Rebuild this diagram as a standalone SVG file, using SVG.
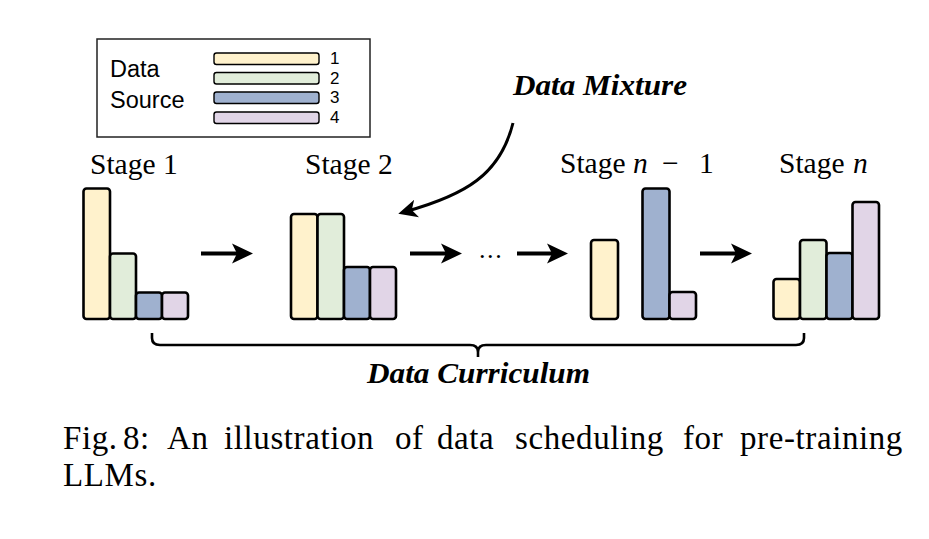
<svg xmlns="http://www.w3.org/2000/svg" width="929" height="539" viewBox="0 0 929 539">
<style>
.bar{stroke:#000;stroke-width:2.6}
.lg{stroke:#000;stroke-width:1.4}
.y{fill:#FFF2CC}.g{fill:#E1EDDA}.b{fill:#9FB1CF}.p{fill:#E1D5E7}
.sans{font-family:"Liberation Sans",Arial,sans-serif;fill:#000}
.serif{font-family:"Liberation Serif","Times New Roman",serif;fill:#000}
.stage{font-size:29.5px}
.bi{font-weight:bold;font-style:italic;font-size:30px}
.cap{font-size:33px;letter-spacing:0.6px}
.conn{fill:none;stroke:#000;stroke-width:4}
</style>
<defs>
<marker id="ah" markerUnits="userSpaceOnUse" markerWidth="22" markerHeight="22" viewBox="0 0 22 22" refX="12" refY="11" orient="auto">
<path d="M0,1 L21,11 L0,21 L5,11 Z" fill="#000"/>
</marker>
<marker id="ah2" markerUnits="userSpaceOnUse" markerWidth="20" markerHeight="20" viewBox="0 0 20 20" refX="11" refY="10" orient="auto">
<path d="M0,1 L19,10 L0,19 L5,10 Z" fill="#000"/>
</marker>
</defs>
<rect width="929" height="539" fill="#fff"/>

<g id="legend">
<rect x="97" y="39" width="273" height="98" fill="#fff" stroke="#222" stroke-width="1.5"/>
<text class="sans" x="110" y="77" font-size="23.5">Data</text>
<text class="sans" x="110" y="108" font-size="23.5">Source</text>
<rect class="lg y" x="214" y="53" width="105" height="11.5" rx="2.5"/>
<rect class="lg g" x="214" y="72.5" width="105" height="11.5" rx="2.5"/>
<rect class="lg b" x="214" y="92" width="105" height="11.5" rx="2.5"/>
<rect class="lg p" x="214" y="112" width="105" height="11.5" rx="2.5"/>
<text class="sans" x="330" y="64" font-size="17">1</text>
<text class="sans" x="330" y="83.5" font-size="17">2</text>
<text class="sans" x="330" y="103" font-size="17">3</text>
<text class="sans" x="330" y="123" font-size="17">4</text>
</g>

<g id="stage1">
<text class="serif stage" x="90" y="174">Stage 1</text>
<rect class="bar y" x="83.5" y="188.5" width="26.5" height="130.5" rx="3"/>
<rect class="bar g" x="110" y="253.5" width="26" height="65.5" rx="3"/>
<rect class="bar b" x="136" y="292.5" width="26" height="26.5" rx="3"/>
<rect class="bar p" x="162" y="292.5" width="26" height="26.5" rx="3"/>
</g>

<g id="stage2">
<text class="serif stage" x="305" y="174">Stage 2</text>
<rect class="bar y" x="291" y="214" width="26.5" height="105" rx="3"/>
<rect class="bar g" x="317.5" y="214" width="26.5" height="105" rx="3"/>
<rect class="bar b" x="344" y="267" width="26" height="52" rx="3"/>
<rect class="bar p" x="370" y="267" width="26" height="52" rx="3"/>
</g>

<g id="stage-n-1">
<text class="serif stage" y="173"><tspan x="560">Stage</tspan><tspan x="633" font-style="italic">n</tspan><tspan x="662">−</tspan><tspan x="699">1</tspan></text>
<rect class="bar y" x="591" y="240" width="27" height="79" rx="3"/>
<rect class="bar b" x="642.5" y="188.5" width="27" height="130.5" rx="3"/>
<rect class="bar p" x="669.5" y="292" width="26.5" height="27" rx="3"/>
</g>

<g id="stage-n">
<text class="serif stage" y="173"><tspan x="779">Stage</tspan><tspan x="853" font-style="italic">n</tspan></text>
<rect class="bar y" x="773.5" y="279" width="26.5" height="40" rx="3"/>
<rect class="bar g" x="800" y="240" width="26.5" height="79" rx="3"/>
<rect class="bar b" x="826.5" y="253" width="26" height="66" rx="3"/>
<rect class="bar p" x="852.5" y="202" width="26.5" height="117" rx="3"/>
</g>

<g id="mixture-label">
<text class="serif bi" x="513" y="95" textLength="174" lengthAdjust="spacingAndGlyphs">Data Mixture</text>
</g>

<g id="curriculum">
<path d="M152,333 L152,338 Q152,345 160,345 L470,345 Q478,345 478,352 L478,357 M478,352 Q478,345 486,345 L796,345 Q804,345 804,338 L804,333" fill="none" stroke="#000" stroke-width="2.6"/>
<text class="serif bi" x="367" y="383" textLength="223" lengthAdjust="spacingAndGlyphs">Data Curriculum</text>
</g>

<g id="connectors">
<line class="conn" x1="201" y1="253.5" x2="244" y2="253.5" marker-end="url(#ah)"/>
<line class="conn" x1="410" y1="253.5" x2="453" y2="253.5" marker-end="url(#ah)"/>
<line class="conn" x1="517" y1="253.5" x2="559" y2="253.5" marker-end="url(#ah)"/>
<line class="conn" x1="700" y1="253.5" x2="743" y2="253.5" marker-end="url(#ah)"/>
<path d="M513,123 C500,175 465,195 406,211.5" fill="none" stroke="#000" stroke-width="3" marker-end="url(#ah2)"/>
</g>
<text class="serif" x="479" y="258" font-size="26" letter-spacing="1.6">...</text>

<g id="caption">
<text class="serif cap" y="449"><tspan x="63">Fig.</tspan><tspan x="123">8:</tspan><tspan x="167">An</tspan><tspan x="224">illustration</tspan><tspan x="395">of</tspan><tspan x="437">data</tspan><tspan x="515">scheduling</tspan><tspan x="683">for</tspan><tspan x="740">pre-training</tspan></text>
<text class="serif cap" x="63" y="486">LLMs.</text>
</g>
</svg>
